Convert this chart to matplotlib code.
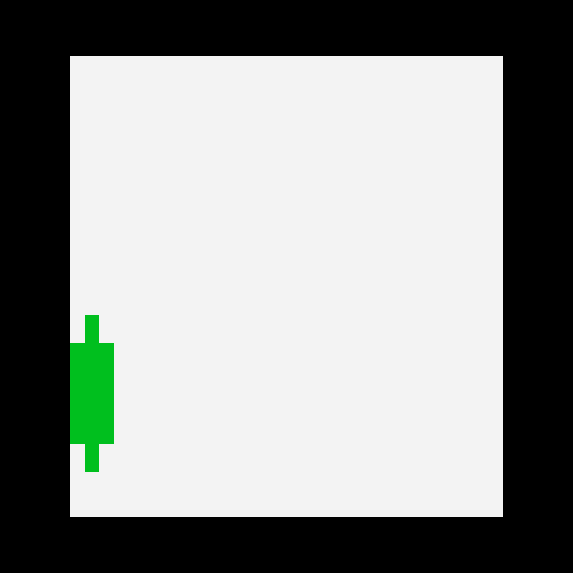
import matplotlib
matplotlib.use("Agg")
import matplotlib.pyplot as plt

# Data
dates = [0]
opens = [15.9]
closes = [37.7]
highs = [43.8]
lows = [9.7]

fig = plt.figure(figsize=(5.73, 5.73), dpi=100, facecolor="black")
ax = fig.add_axes([70/573, (573-517)/573, (503-70)/573, (517-56)/573])
ax.set_facecolor("#f3f3f3")

green = "#00bf1e"
for x, o, c, h, l in zip(dates, opens, closes, highs, lows):
    ax.bar(x, h - l, bottom=l, width=0.255, color=green, linewidth=0)
    ax.bar(x, c - o, bottom=o, width=0.8, color=green, linewidth=0)

ax.set_xlim(-0.4, -0.4 + 433/55)
ax.set_ylim(0, 100)
ax.set_xticks([])
ax.set_yticks([])
for s in ax.spines.values():
    s.set_visible(False)

fig.savefig("out.png", dpi=100, facecolor="black")
